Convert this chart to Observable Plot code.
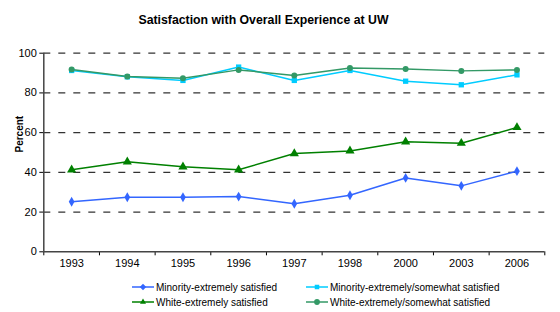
<!DOCTYPE html>
<html>
<head>
<meta charset="utf-8">
<script src="https://cdn.jsdelivr.net/npm/d3@7"></script>
<script src="https://cdn.jsdelivr.net/npm/@observablehq/plot@0.6"></script>
<style>
  body { margin: 0; background: #fff; font-family: "Liberation Sans", Arial, sans-serif; }
  #wrap { position: relative; width: 560px; height: 312px; overflow: hidden; }
  #title { position: absolute; left: 0; width: 527px; top: 13px; text-align: center; font-weight: bold; font-size: 12.3px; color: #000; }
  #chart { position: absolute; left: 0; top: 40px; }
  .leg { position: absolute; font-size: 10px; color: #000; display: flex; align-items: center; white-space: nowrap; }
  .leg svg { margin-right: 2px; }
</style>
</head>
<body>
<div id="wrap">
  <div id="title">Satisfaction with Overall Experience at UW</div>
  <div id="chart"></div>
  <div id="legend"></div>
</div>
<script>
const years = ["1993","1994","1995","1996","1997","1998","2000","2003","2006"];
const minorityExtremely = [25.2, 27.5, 27.5, 27.8, 24.2, 28.5, 37.2, 33.2, 40.6];
const minorityExtSomewhat = [91.3, 88.1, 86.3, 93.0, 86.3, 91.3, 85.9, 84.1, 89.1];
const whiteExtremely = [41.3, 45.3, 42.8, 41.3, 49.5, 50.8, 55.4, 54.7, 62.6];
const whiteExtSomewhat = [91.8, 88.3, 87.4, 91.6, 88.8, 92.6, 92.1, 91.1, 91.6];
const seriesNames = ["Minority-extremely satisfied", "Minority-extremely/somewhat satisfied", "White-extremely satisfied", "White-extremely/somewhat satisfied"];
const seriesColors = ["#3366FF", "#00CCFF", "#008000", "#339966"];
const seriesSymbols = ["diamond", "square", "triangle", "circle"];
const yTicks = [0, 20, 40, 60, 80, 100];

const allValues = [minorityExtremely, minorityExtSomewhat, whiteExtremely, whiteExtSomewhat];
const data = [];
allValues.forEach((vals, s) => vals.forEach((v, i) => data.push({i, v, s: seriesNames[s]})));
const idx = years.map((_, i) => i);
const bounds = d3.range(-0.5, years.length, 1);

const markers = [];
seriesNames.forEach((name, s) => {
  const d = data.filter(e => e.s === name);
  markers.push(Plot.line(d, {x: "i", y: "v", stroke: seriesColors[s], strokeWidth: 1.5}));
});
seriesNames.forEach((name, s) => {
  const d = data.filter(e => e.s === name);
  const r = seriesSymbols[s] === "diamond" ? 3.0 : seriesSymbols[s] === "triangle" ? 3.4 : 3.0;
  markers.push(Plot.dot(d, {x: "i", y: "v", fill: seriesColors[s], stroke: "none", symbol: () => seriesSymbols[s], r}));
});

const chart = Plot.plot({
  width: 560,
  height: 232,
  marginLeft: 43.3,
  marginRight: 15.7,
  marginTop: 12.7,
  marginBottom: 20.7,
  style: {fontFamily: "Liberation Sans, Arial, sans-serif", fontSize: "11px", color: "#000"},
  x: {type: "linear", domain: [-0.5, years.length - 0.5]},
  y: {domain: [0, 100]},
  symbol: {type: "identity"},
  marks: [
    Plot.ruleY(yTicks.filter(t => t > 0), {stroke: "#333", strokeWidth: 1.2, strokeDasharray: "7,8"}),
    Plot.axisY({ticks: yTicks, tickSize: 4, tickPadding: 3, label: null, stroke: "#000"}),
    Plot.axisX({ticks: idx, tickSize: 0, tickPadding: 7, tickFormat: i => years[i], label: null}),
    Plot.axisX({ticks: bounds, tickSize: 4, tickFormat: () => "", label: null, stroke: "#000"}),
    Plot.ruleX([-0.5], {stroke: "#444", strokeWidth: 1.5}),
    Plot.ruleY([0], {stroke: "#444", strokeWidth: 1.5}),
    Plot.text(["Percent"], {frameAnchor: "left", rotate: -90, dx: -24, fontWeight: "bold", fontSize: 10, fill: "#000"}),
    ...markers
  ]
});
document.getElementById("chart").appendChild(chart);

// legend
const legPos = [[132, 287], [306, 287], [132, 302], [306, 302]];
const legOrder = [0, 1, 2, 3];
const legend = document.getElementById("legend");
legOrder.forEach((s, k) => {
  const [x, y] = legPos[k];
  const div = document.createElement("div");
  div.className = "leg";
  div.style.left = x + "px";
  div.style.top = (y - 7) + "px";
  const sym = d3.symbol(seriesSymbols[s] === "diamond" ? d3.symbolDiamond2 : seriesSymbols[s] === "square" ? d3.symbolSquare2 : seriesSymbols[s] === "triangle" ? d3.symbolTriangle2 : d3.symbolCircle, 26)();
  div.innerHTML = `<svg width="22" height="14"><line x1="0" x2="22" y1="7" y2="7" stroke="${seriesColors[s]}" stroke-width="1.5"/><path transform="translate(11,7)" d="${sym}" fill="${seriesColors[s]}"/></svg><span>${seriesNames[s]}</span>`;
  legend.appendChild(div);
});
</script>
</body>
</html>
